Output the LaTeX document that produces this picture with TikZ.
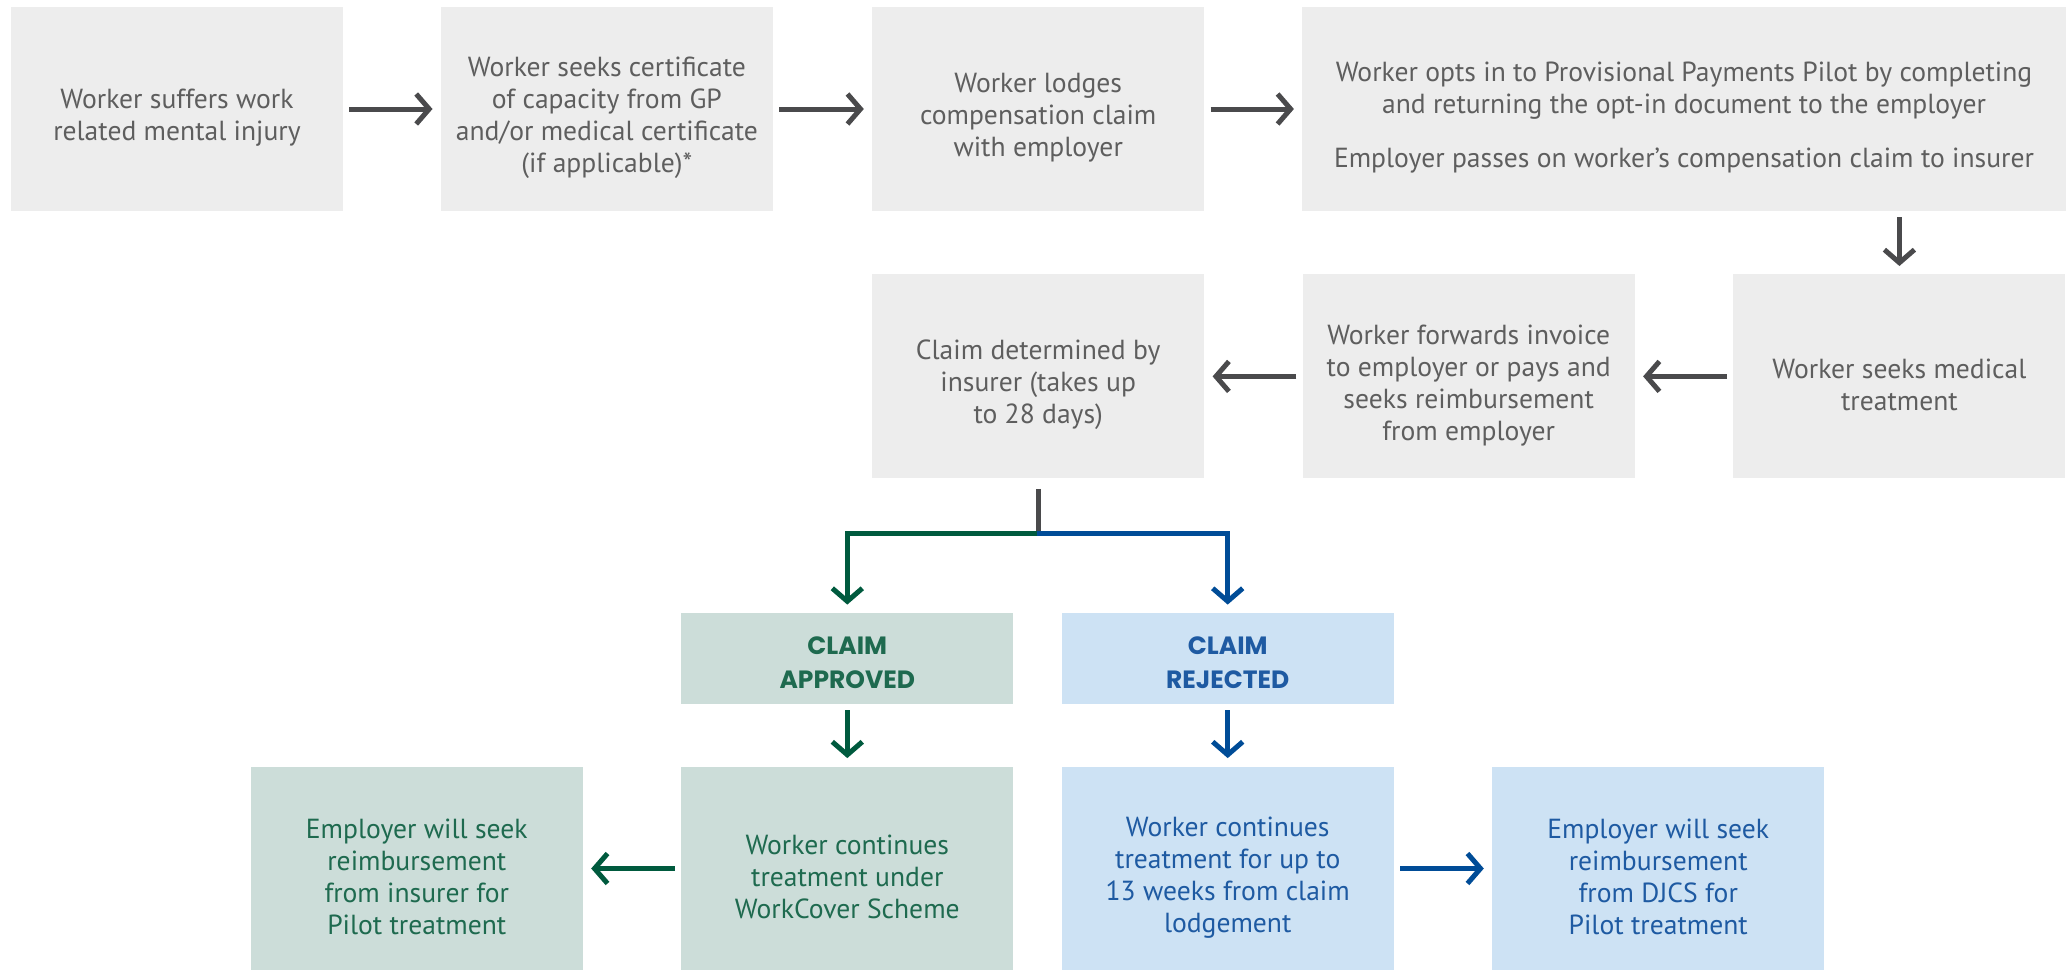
\documentclass[tikz,border=0pt]{standalone}
\usepackage{fontspec}
\setmainfont{PT Sans}
\newfontfamily\headfont{Poppins}
\usetikzlibrary{arrows.meta}
\definecolor{boxgray}{HTML}{EDEDED}
\definecolor{txtgray}{HTML}{5E5E5E}
\definecolor{arrgray}{HTML}{4A4A4C}
\definecolor{boxgreen}{HTML}{CCDDD9}
\definecolor{txtgreen}{HTML}{1E6A4F}
\definecolor{arrgreen}{HTML}{005A3E}
\definecolor{boxblue}{HTML}{CDE2F4}
\definecolor{txtblue}{HTML}{1E5AA2}
\definecolor{arrblue}{HTML}{004C97}
\newcommand\bst{\rule{0pt}{18.5pt}}
\newcommand\hst{\rule{0pt}{13.3pt}}
\begin{document}
\begin{tikzpicture}[x=0.5pt,y=-0.5pt,
  box/.style={rectangle, inner sep=0pt, align=center, minimum width=166pt, minimum height=102pt,
    font=\fontsize{13.8}{16}\selectfont},
  graybox/.style={box, fill=boxgray, text=txtgray},
  greenbox/.style={box, fill=boxgreen, text=txtgreen},
  bluebox/.style={box, fill=boxblue, text=txtblue},
  headbox/.style={minimum height=45.5pt, font=\headfont\bfseries\fontsize{12.5}{17}\selectfont},
  arr/.style={line width=2.5pt, -{Straight Barb[length=6.5pt,width=15pt,line width=2.5pt]}, shorten <=3pt, shorten >=4pt},
  grayarr/.style={arr, draw=arrgray},
  greenarr/.style={arr, draw=arrgreen},
  bluearr/.style={arr, draw=arrblue}]
\useasboundingbox (0,0) rectangle (2071,969);
% row 1
\node[graybox] (b1) at (177,109) {\bst Worker suffers work\\related mental injury};
\node[graybox] (b2) at (606.9,109) {\bst Worker seeks certificate\\of capacity from GP\\and/or medical certificate\\(if applicable)*};
\node[graybox] (b3) at (1038.2,109) {\bst Worker lodges\\compensation claim\\with employer};
\node[graybox, minimum width=381.7pt] (b4) at (1684,109) {\bst Worker opts in to Provisional Payments Pilot by completing\\and returning the opt-in document to the employer\\[11pt]Employer passes on worker’s compensation claim to insurer};
% row 2
\node[graybox] (b5) at (1038.2,376.4) {\bst Claim determined by\\insurer (takes up\\to 28 days)};
\node[graybox] (b6) at (1468.7,376.4) {\bst Worker forwards invoice\\to employer or pays and\\seeks reimbursement\\from employer};
\node[graybox] (b7) at (1899.4,376.4) {\bst Worker seeks medical\\treatment};
% row 3
\node[greenbox, headbox] (ap) at (847.3,658.5) {\hst CLAIM\\APPROVED};
\node[bluebox, headbox] (rj) at (1227.7,658.5) {\hst CLAIM\\REJECTED};
% row 4
\node[greenbox] (e1) at (416.8,868.5) {\bst Employer will seek\\reimbursement\\from insurer for\\Pilot treatment};
\node[greenbox] (w1) at (847.3,868.5) {\bst Worker continues\\treatment under\\WorkCover Scheme};
\node[bluebox] (w2) at (1227.7,868.5) {\bst Worker continues\\treatment for up to\\13 weeks from claim\\lodgement};
\node[bluebox] (e2) at (1658.2,868.5) {\bst Employer will seek\\reimbursement\\from DJCS for\\Pilot treatment};
% connectors
\draw[grayarr] (b1) -- (b2);
\draw[grayarr] (b2) -- (b3);
\draw[grayarr] (b3) -- (b4);
\draw[grayarr] (b4.south -| b7) -- (b7);
\draw[grayarr] (b7) -- (b6);
\draw[grayarr] (b6) -- (b5);
\coordinate (j) at (1038.2,533.6);
\draw[line width=2.5pt, draw=arrgray, shorten <=5pt] (b5.south) -- (j);
\draw[greenarr, shorten <=0pt] ([xshift=0.6pt]j) -| (ap.north);
\draw[bluearr, shorten <=0pt] ([xshift=-0.6pt]j) -| (rj.north);
\draw[greenarr] (ap) -- (w1);
\draw[bluearr] (rj) -- (w2);
\draw[greenarr] (w1) -- (e1);
\draw[bluearr] (w2) -- (e2);
\end{tikzpicture}
\end{document}
